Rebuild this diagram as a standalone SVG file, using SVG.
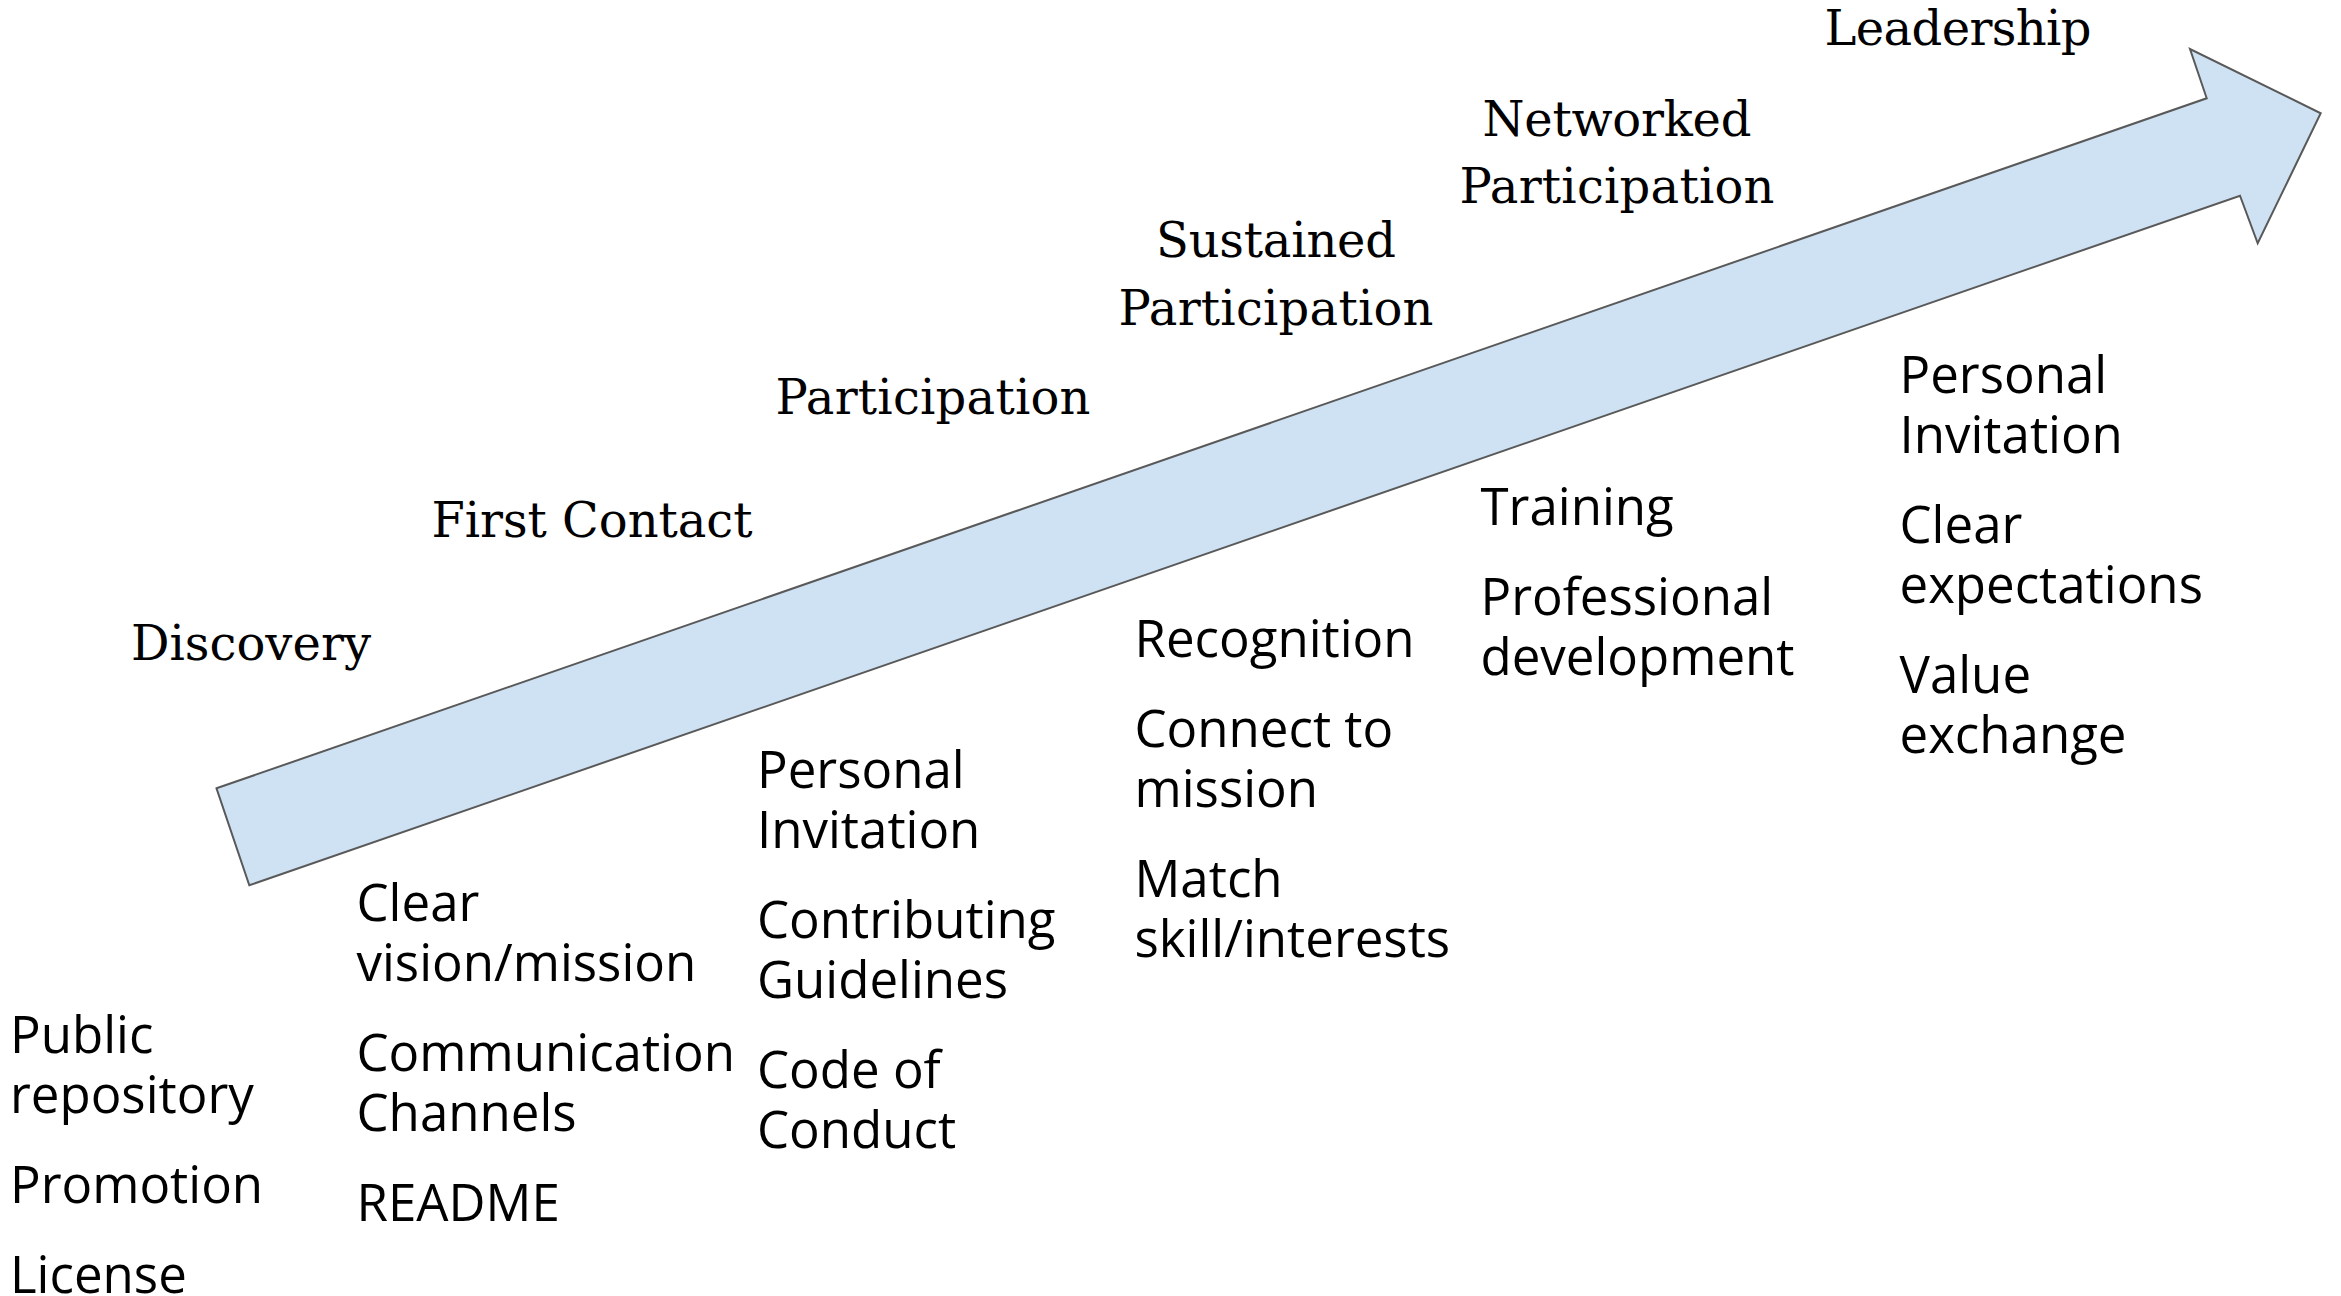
<svg xmlns="http://www.w3.org/2000/svg" width="2341" height="1296" viewBox="0 0 2341 1296">
<style>
.stage{font-family:"DejaVu Serif","Liberation Serif",serif;font-size:48px;fill:#000;text-anchor:middle}
.item{font-family:"Open Sans","Noto Sans","Liberation Sans",sans-serif;font-size:51px;fill:#000}
.arrow{fill:#cfe2f3;stroke:#595959;stroke-width:2;stroke-linejoin:miter}
</style>
<rect x="0" y="0" width="2341" height="1296" fill="#ffffff"/>
<g id="arrow">
<polygon class="arrow" points="216.5,788.3 2206.7,98.3 2190,49 2320.7,113.3 2257.7,243.3 2240,195.7 249.3,885.3"/>
</g>
<g id="stage-discovery"><text class="stage" x="251" y="660" textLength="240" lengthAdjust="spacing">Discovery</text></g>
<g id="stage-first-contact"><text class="stage" x="592" y="537" textLength="321" lengthAdjust="spacing">First Contact</text></g>
<g id="stage-participation"><text class="stage" x="933" y="414" textLength="315" lengthAdjust="spacing">Participation</text></g>
<g id="stage-sustained"><text class="stage" x="1276" y="257" textLength="240" lengthAdjust="spacing">Sustained</text><text class="stage" x="1276" y="325" textLength="315" lengthAdjust="spacing">Participation</text></g>
<g id="stage-networked"><text class="stage" x="1617" y="136" textLength="269" lengthAdjust="spacing">Networked</text><text class="stage" x="1617" y="203" textLength="315" lengthAdjust="spacing">Participation</text></g>
<g id="stage-leadership"><text class="stage" x="1958" y="45" textLength="267" lengthAdjust="spacing">Leadership</text></g>
<g id="items-discovery">
<text class="item" x="10" y="1053">Public</text>
<text class="item" x="10" y="1113">repository</text>
<text class="item" x="10" y="1203">Promotion</text>
<text class="item" x="10" y="1293">License</text>
</g>
<g id="items-first-contact">
<text class="item" x="356.5" y="921">Clear</text>
<text class="item" x="356.5" y="981">vision/mission</text>
<text class="item" x="356.5" y="1071">Communication</text>
<text class="item" x="356.5" y="1131">Channels</text>
<text class="item" x="356.5" y="1221">README</text>
</g>
<g id="items-participation">
<text class="item" x="757" y="788">Personal</text>
<text class="item" x="757" y="848">Invitation</text>
<text class="item" x="757" y="938">Contributing</text>
<text class="item" x="757" y="998">Guidelines</text>
<text class="item" x="757" y="1088">Code of</text>
<text class="item" x="757" y="1148">Conduct</text>
</g>
<g id="items-sustained">
<text class="item" x="1134.5" y="657">Recognition</text>
<text class="item" x="1134.5" y="747">Connect to</text>
<text class="item" x="1134.5" y="807">mission</text>
<text class="item" x="1134.5" y="897">Match</text>
<text class="item" x="1134.5" y="957">skill/interests</text>
</g>
<g id="items-networked">
<text class="item" x="1480.5" y="525">Training</text>
<text class="item" x="1480.5" y="615">Professional</text>
<text class="item" x="1480.5" y="675">development</text>
</g>
<g id="items-leadership">
<text class="item" x="1899.5" y="393">Personal</text>
<text class="item" x="1899.5" y="453">Invitation</text>
<text class="item" x="1899.5" y="543">Clear</text>
<text class="item" x="1899.5" y="603">expectations</text>
<text class="item" x="1899.5" y="693">Value</text>
<text class="item" x="1899.5" y="753">exchange</text>
</g>
</svg>
